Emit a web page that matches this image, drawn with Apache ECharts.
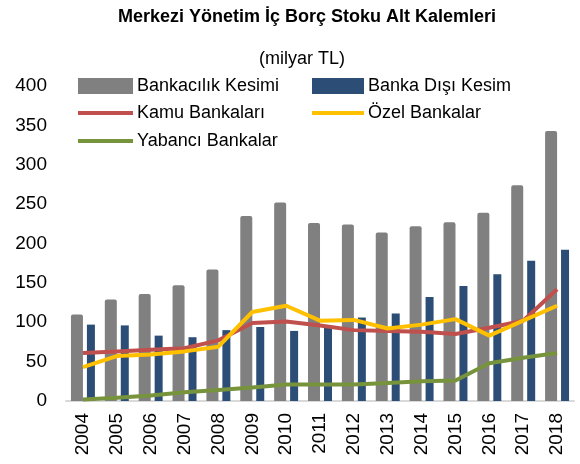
<!DOCTYPE html>
<html>
<head>
<meta charset="utf-8">
<script src="https://cdn.jsdelivr.net/npm/echarts@6/dist/echarts.min.js"></script>
<style>html,body{margin:0;padding:0;background:#fff}#c{width:580px;height:464px}</style>
</head>
<body>
<div id="c"></div>
<script>
var years = ['2004','2005','2006','2007','2008','2009','2010','2011','2012','2013','2014','2015','2016','2017','2018'];
var bankacilik = [110,129,136,147,167,235,252,226,224,214,222,227,239,274,343];
var bankaDisi = [97,96,83,81,90,94,89,96,106,111,132,146,161,178,192];
var kamu = [61,63,65,67,77,99,101,96,90,89,88,85,93,102,142];
var ozel = [43,57,59,63,69,113,121,102,103,92,97,104,83,102,121];
var yabanci = [2,4,7,11,14,17,21,21,21,23,25,26,48,55,61];
var yTicks = [0,50,100,150,200,250,300,350,400];

var FONT = 'Liberation Sans';
var chart = echarts.init(document.getElementById('c'));
function lg(name, left, top, w, h) {
  return {
    data: [{name: name, icon: 'rect'}], left: left, top: top,
    itemWidth: w, itemHeight: h, padding: 0,
    textStyle: {fontFamily: FONT, fontSize: 18, color: '#000', padding: [0,0,0,-1]}
  };
}
chart.setOption({
  animation: false,
  title: [
    {text: 'Merkezi Yönetim İç Borç Stoku Alt Kalemleri', left: 302, top: 3, textAlign: 'center',
     textStyle: {fontFamily: FONT, fontSize: 18, fontWeight: 'bold', color: '#000'}},
    {text: '(milyar TL)', left: 297, top: 45, textAlign: 'center',
     textStyle: {fontFamily: FONT, fontSize: 18, fontWeight: 'normal', color: '#000'}}
  ],
  legend: [
    lg('Bankacılık Kesimi', 78, 77, 55, 16),
    lg('Banka Dışı Kesim', 312, 77, 52, 16),
    lg('Kamu Bankaları', 78, 104, 55, 4),
    lg('Özel Bankalar', 312, 104, 52, 4),
    lg('Yabancı Bankalar', 78, 132, 55, 4)
  ],
  grid: {left: 66, right: 6, top: 86, bottom: 63},
  xAxis: {
    type: 'category', data: years,
    axisLine: {lineStyle: {color: '#d9d9d9', width: 2}},
    axisTick: {show: false},
    axisLabel: {rotate: 90, margin: 12, fontFamily: FONT, fontSize: 19, color: '#000'}
  },
  yAxis: {
    type: 'value', min: yTicks[0], max: yTicks[yTicks.length-1], interval: 50,
    axisLine: {show: false}, axisTick: {show: false}, splitLine: {show: false},
    axisLabel: {margin: 19, fontFamily: FONT, fontSize: 19, color: '#000'}
  },
  series: [
    {name: 'Bankacılık Kesimi', type: 'bar', data: bankacilik, barWidth: 12, barGap: '33%',
     itemStyle: {color: '#808080', borderRadius: [2,2,0,0]}},
    {name: 'Banka Dışı Kesim', type: 'bar', data: bankaDisi, barWidth: 8,
     itemStyle: {color: '#2c4d75'}},
    {name: 'Kamu Bankaları', type: 'line', data: kamu, symbol: 'none',
     lineStyle: {color: '#c0504d', width: 4}, itemStyle: {color: '#c0504d'}},
    {name: 'Özel Bankalar', type: 'line', data: ozel, symbol: 'none',
     lineStyle: {color: '#ffc000', width: 4}, itemStyle: {color: '#ffc000'}},
    {name: 'Yabancı Bankalar', type: 'line', data: yabanci, symbol: 'none',
     lineStyle: {color: '#77933c', width: 4}, itemStyle: {color: '#77933c'}}
  ]
});
</script>
</body>
</html>
